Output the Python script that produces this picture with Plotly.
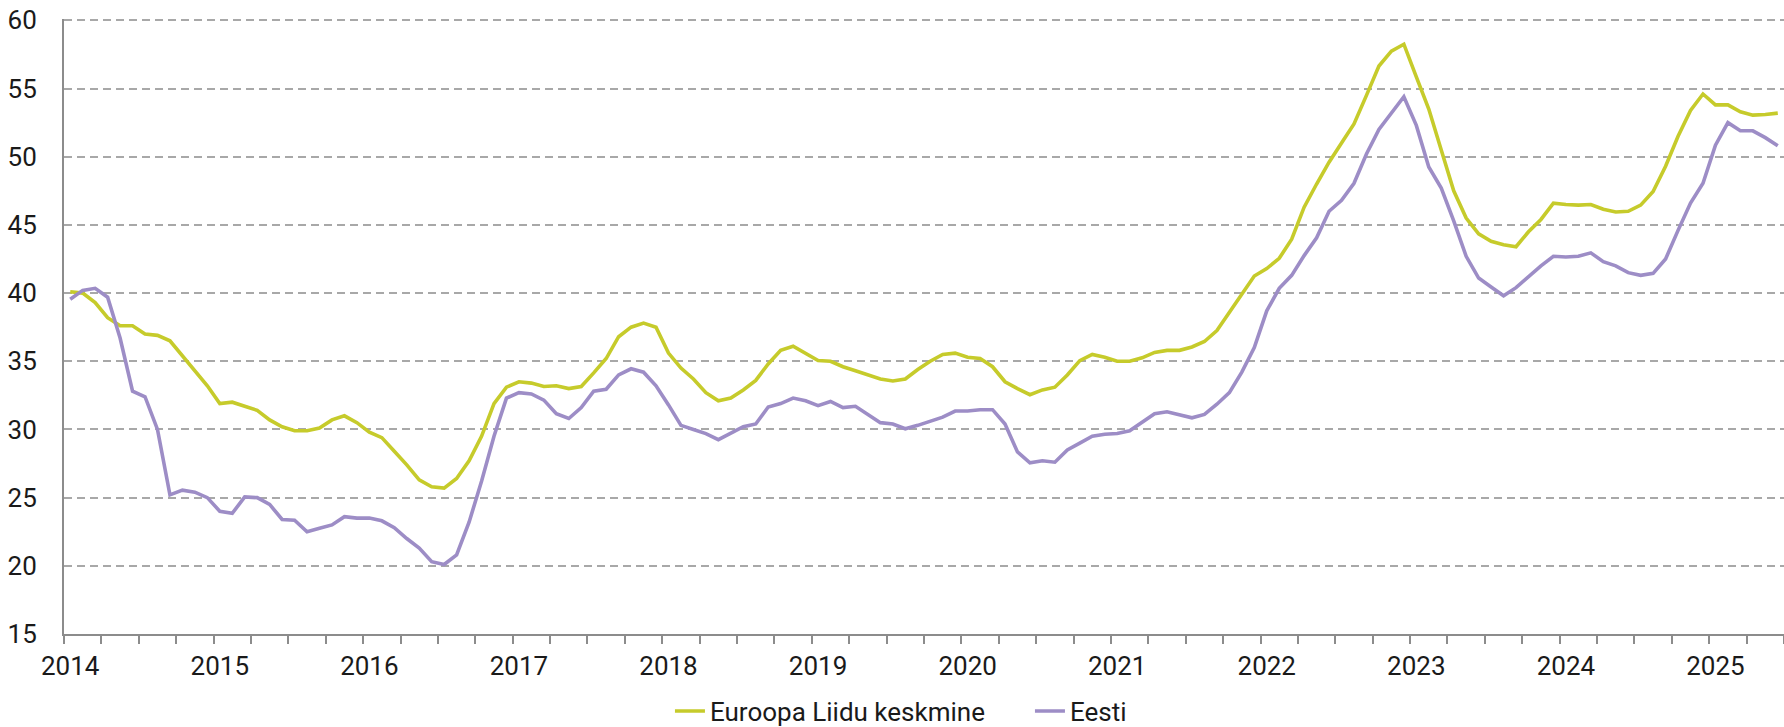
import numpy as np
import plotly.graph_objects as go

# Monthly values, Jan 2014 - Jun 2025
years = ["2014", "2015", "2016", "2017", "2018", "2019", "2020", "2021", "2022", "2023", "2024", "2025"]

eu_avg = [
    40.1, 40.0, 39.3, 38.2, 37.6, 37.6, 37.0, 36.9, 36.5, 35.4, 34.4, 33.2,   # 2014
    31.9, 32.0, 31.7, 31.4, 30.7, 30.2, 29.9, 29.9, 30.1, 30.7, 31.0, 30.5,   # 2015
    29.8, 29.4, 28.4, 27.4, 26.3, 25.8, 25.7, 26.4, 27.7, 29.5, 31.9, 33.1,   # 2016
    33.5, 33.4, 33.15, 33.2, 33.0, 33.15, 34.15, 35.2, 36.8, 37.5, 37.8, 37.5,  # 2017
    35.6, 34.5, 33.7, 32.7, 32.1, 32.3, 32.9, 33.6, 34.8, 35.8, 36.1, 35.6,   # 2018
    35.05, 35.0, 34.6, 34.3, 34.0, 33.7, 33.55, 33.7, 34.4, 35.0, 35.5, 35.6,  # 2019
    35.3, 35.2, 34.6, 33.5, 33.0, 32.55, 32.9, 33.1, 34.0, 35.05, 35.5, 35.3,  # 2020
    35.0, 35.0, 35.25, 35.65, 35.8, 35.8, 36.05, 36.45, 37.25, 38.55, 39.9, 41.25,  # 2021
    41.8, 42.55, 43.95, 46.3, 48.0, 49.6, 51.0, 52.4, 54.5, 56.65, 57.75, 58.25,  # 2022
    55.85, 53.5, 50.5, 47.5, 45.5, 44.35, 43.8, 43.55, 43.4, 44.5, 45.4, 46.6,  # 2023
    46.5, 46.45, 46.5, 46.15, 45.95, 46.0, 46.45, 47.45, 49.3, 51.5, 53.4, 54.6,  # 2024
    53.8, 53.8, 53.3, 53.05, 53.1, 53.2,                                       # 2025
]

eesti = [
    39.55, 40.2, 40.35, 39.7, 36.7, 32.8, 32.4, 30.0, 25.2, 25.55, 25.4, 25.0,   # 2014
    24.0, 23.85, 25.05, 25.0, 24.5, 23.4, 23.35, 22.5, 22.75, 23.0, 23.6, 23.5,  # 2015
    23.5, 23.3, 22.8, 22.0, 21.3, 20.3, 20.1, 20.8, 23.2, 26.2, 29.5, 32.3,      # 2016
    32.7, 32.6, 32.15, 31.15, 30.8, 31.6, 32.8, 32.95, 34.0, 34.45, 34.2, 33.2,  # 2017
    31.8, 30.3, 30.0, 29.7, 29.25, 29.7, 30.2, 30.4, 31.65, 31.9, 32.3, 32.1,    # 2018
    31.75, 32.05, 31.6, 31.7, 31.1, 30.5, 30.4, 30.05, 30.3, 30.6, 30.9, 31.35,  # 2019
    31.35, 31.45, 31.45, 30.4, 28.35, 27.55, 27.7, 27.6, 28.5, 29.0, 29.5, 29.65,  # 2020
    29.7, 29.9, 30.5, 31.15, 31.3, 31.05, 30.85, 31.1, 31.85, 32.7, 34.2, 36.0,  # 2021
    38.7, 40.35, 41.3, 42.75, 44.05, 46.0, 46.8, 48.05, 50.2, 52.0, 53.2, 54.4,  # 2022
    52.3, 49.25, 47.7, 45.3, 42.7, 41.1, 40.45, 39.8, 40.4, 41.2, 42.0, 42.7,    # 2023
    42.65, 42.7, 42.95, 42.3, 42.0, 41.5, 41.3, 41.45, 42.5, 44.6, 46.6, 48.05,  # 2024
    50.85, 52.5, 51.9, 51.9, 51.4, 50.8,                                         # 2025
]

n = len(eu_avg)
x = np.arange(n) + 0.5  # each month centred in its slot

GREEN = "#c6cb2b"
PURPLE = "#9d8dc6"
GRID = "#a8a8a8"
AXIS = "#8c8c8c"
FONT = dict(family="Roboto, Arial, sans-serif", size=26, color="#1a1a1a")

fig = go.Figure()
fig.add_trace(go.Scatter(x=x, y=eu_avg, mode="lines", name="Euroopa Liidu keskmine",
                         line=dict(color=GREEN, width=3.6)))
fig.add_trace(go.Scatter(x=x, y=eesti, mode="lines", name="Eesti",
                         line=dict(color=PURPLE, width=3.6)))

fig.update_layout(
    width=1784, height=727,
    margin=dict(l=64, r=0, t=18.6, b=93, autoexpand=False),
    paper_bgcolor="white", plot_bgcolor="white",
    font=FONT,
    showlegend=True,
    legend=dict(orientation="h", x=0.3523, xanchor="left", y=-0.1254, yanchor="middle",
                font=FONT, itemwidth=30, entrywidth=315, entrywidthmode="pixels",
                bgcolor="rgba(0,0,0,0)", borderwidth=0),
)

fig.update_xaxes(
    range=[0, n],
    tickmode="array",
    tickvals=[0.5 + 12 * k for k in range(len(years))],
    ticktext=years,
    ticks="",
    showgrid=False,
    zeroline=False,
    showline=True, linecolor=AXIS, linewidth=2,
    ticklabelstandoff=8,
    tickfont=FONT,
    minor=dict(tickmode="linear", tick0=0, dtick=3, ticks="outside", ticklen=8,
               tickwidth=2, tickcolor=AXIS, showgrid=False),
)

fig.update_yaxes(
    range=[15, 60.1],
    tickmode="linear", tick0=15, dtick=5,
    ticks="",
    showgrid=True, gridcolor=GRID, gridwidth=1.5, griddash="8px,5px",
    zeroline=False,
    showline=True, linecolor=AXIS, linewidth=2,
    ticklabelstandoff=20,
    tickfont=FONT,
)

fig.write_html("out.html", config={"displayModeBar": False},
               post_script="document.body.style.margin='0';")
